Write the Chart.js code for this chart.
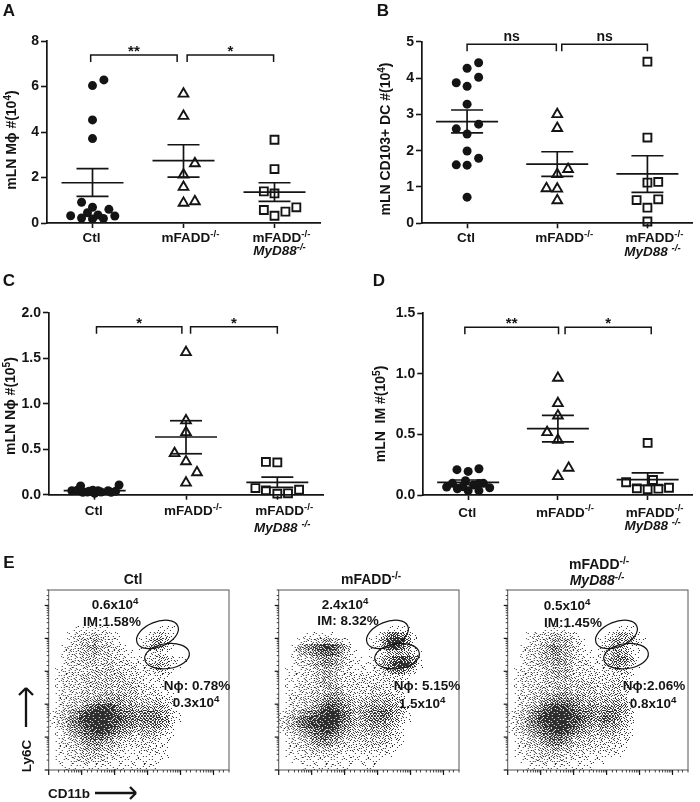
<!DOCTYPE html>
<html>
<head>
<meta charset="utf-8">
<title>mLN cell counts</title>
<script src="https://cdn.jsdelivr.net/npm/chart.js@4"></script>
<style>
  html, body { margin: 0; padding: 0; background: #fff; }
  #page { position: relative; width: 700px; height: 802px; overflow: hidden; }
  canvas { position: absolute; }
</style>
</head>
<body>
<div id="page"></div>
<script>
'use strict';

// categories, {} marks superscript, \n starts an italic second line
let categoriesA = ['Ctl', 'mFADD{-/-}', 'mFADD{-/-}\nMyD88{-/-}'];
let categoriesB = ['Ctl', 'mFADD{-/-}', 'mFADD{-/-}\nMyD88 {-/-}'];

// panel A
let aTicks = [0, 2, 4, 6, 8];
let aCtl = [6.29, 6.04, 4.53, 3.71, 0.91, 0.69, 0.60, 0.32, 0.45, 0.35, 0.22, 0.18, 0.20, 0.31];
let aCtlX = [0.125, 0, 0, 0, -0.12, 0, 0.18, -0.24, -0.055, 0.06, -0.12, 0, 0.12, 0.245];
let aKo = [5.68, 4.70, 2.62, 2.12, 1.58, 0.88, 0.95];
let aKoX = [0, 0, 0.125, 0, 0, 0, 0.125];
let aDko = [3.66, 2.37, 1.39, 1.30, 0.57, 0.32, 0.50, 0.69];
let aDkoX = [0, 0, -0.117, 0, -0.117, 0, 0.12, 0.24];
let aMean = [1.77, 2.74, 1.36];
let aHigh = [2.39, 3.44, 1.77];
let aLow = [1.17, 2.02, 0.95];

// panel B
let bTicks = [0, 1, 2, 3, 4, 5];
let bCtl = [4.42, 4.27, 4.02, 3.87, 3.77, 3.28, 2.60, 2.73, 2.46, 1.99, 1.79, 1.61, 1.60, 0.72];
let bCtlX = [0.128, 0, 0.128, -0.12, 0, 0, -0.12, 0.128, 0, 0, 0.128, -0.12, 0, 0];
let bKo = [3.00, 2.62, 1.49, 1.35, 0.96, 0.95, 0.63];
let bKoX = [0, 0, 0.12, 0, -0.12, 0, 0];
let bDko = [4.45, 2.36, 1.12, 1.14, 0.64, 0.66, 0.43, 0.05];
let bDkoX = [0, 0, 0, 0.12, -0.12, 0.12, 0, 0];
let bMean = [2.80, 1.63, 1.36];
let bHigh = [3.12, 1.97, 1.86];
let bLow = [2.49, 1.29, 0.85];

// panel C
let cTicks = [0, 0.5, 1, 1.5, 2];
let cCtl = [0.095, 0.106, 0.044, 0.05, 0.026, 0.037, 0.015, 0.044, 0.044, 0.037, 0.03, 0.03, 0.05, 0.026];
let cCtlX = [-0.154, 0.267, -0.25, -0.19, -0.13, -0.06, 0, 0.037, 0.147, 0.23, 0.07, -0.08, -0.02, 0.18];
let cKo = [1.565, 0.815, 0.685, 0.455, 0.365, 0.245, 0.131];
let cKoX = [0, 0, 0, -0.125, 0, 0.12, 0];
let cDko = [0.36, 0.355, 0.073, 0.048, 0.011, 0.015, 0.055];
let cDkoX = [-0.125, 0, -0.24, -0.125, 0, 0.117, 0.238];
let cMean = [0.044, 0.634, 0.135];
let cHigh = [0.052, 0.813, 0.194];
let cLow = [0.036, 0.45, 0.08];

// panel D
let dTicks = [0, 0.5, 1, 1.5];
let dCtl = [0.209, 0.195, 0.217, 0.066, 0.096, 0.052, 0.118, 0.036, 0.083, 0.036, 0.06, 0.096, 0.069, 0.094];
let dCtlX = [-0.125, 0, 0.12, -0.24, -0.176, -0.12, -0.03, 0, 0.06, 0.12, 0.24, 0.17, -0.06, 0.12];
let dKo = [0.966, 0.757, 0.655, 0.517, 0.454, 0.223, 0.154];
let dKoX = [0, 0, 0, -0.12, 0, 0.12, 0];
let dDko = [0.43, 0.124, 0.105, 0.055, 0.047, 0.052, 0.06];
let dDkoX = [0, 0.06, -0.24, -0.12, 0, 0.12, 0.238];
let dMean = [0.105, 0.548, 0.127];
let dHigh = [0.124, 0.658, 0.182];
let dLow = [0.085, 0.438, 0.08];

// panel E, estimated dot density per cell (0-9) of the three flow plots, top row first
let flowCtl = [
  '000000000000000000000000000000',
  '000000000000000000000000000000',
  '000000000000000000000000000000',
  '000000000000000000000000000000',
  '000000000000000000000000000000',
  '000000000000000000000000000000',
  '000011111100000000111000000000',
  '000122232211000012321000000000',
  '000123343221000124531000000000',
  '001223453322100135421000000000',
  '001223343322110012210000000000',
  '001223332322211122332110000000',
  '001222332332222123431100000000',
  '012222233333222122321000000000',
  '012223333333322211210000000000',
  '012222333333332211110000000000',
  '012222333333333222110000000000',
  '012223334444433222211000000000',
  '012233445555443333322000000000',
  '012334678886554444431000000000',
  '123457899987665666542100000000',
  '123568999988766666652100000000',
  '123567899987665556542000000000',
  '012456789876543444321000000000',
  '012345677654332333211000000000',
  '012234555443222222110000000000',
  '011223444332211222110000000000',
  '011223333222111111110000000000',
  '011122322211111111100000000000',
  '001111111111111111000000000000'
];
let flowKo = [
  '000000000000000000000000000000',
  '000000000000000000000000000000',
  '000000000000000000000000000000',
  '000000000000000000000000000000',
  '000000000000000000000000000000',
  '000000000000000000000000000000',
  '000000000000000000111100000000',
  '000011111000000013675310000000',
  '000122344321000125898510000000',
  '001456788753000124787410000000',
  '001345677642100012444421000000',
  '001223455432110124578751000000',
  '001223455432111124689851000000',
  '011122344322111123566420000000',
  '011122344322222222222100000000',
  '011222344322222222221000000000',
  '011222334432222332221000000000',
  '012223345543222333322000000000',
  '012233456654333444432000000000',
  '012234578765344555542100000000',
  '123456789976445667643100000000',
  '234678899976445666542100000000',
  '234678899865444555431000000000',
  '123456788754334444321000000000',
  '012345676543333333321000000000',
  '012234555432223333211000000000',
  '011223333222222222110000000000',
  '011122222211111111100000000000',
  '001111111111111110000000000000',
  '000011111111001100000000000000'
];
let flowDko = [
  '000000000000000000000000000000',
  '000000000000000000000000000000',
  '000000000000000000000000000000',
  '000000000000000000000000000000',
  '000000000000000000000000000000',
  '000000000000000000000000000000',
  '000000111100000000111000000000',
  '000122233221000012443100000000',
  '000122344432100124544210000000',
  '001223465432100134431100000000',
  '001223455432110134542100000000',
  '001223445432211135664100000000',
  '001223344432221134542100000000',
  '012222344432222122331000000000',
  '012222334432222222221000000000',
  '012222333333332223321000000000',
  '012223334433333233321000000000',
  '012233445544433333320000000000',
  '012234566665444344431000000000',
  '012345788876555455541000000000',
  '123467899987665566542000000000',
  '123568999988765676532000000000',
  '123567899987654555431000000000',
  '123456789876543444321000000000',
  '012345677654333333221000000000',
  '012334566543332222210000000000',
  '011223344332222222110000000000',
  '011223333222211111100000000000',
  '001122222211111100000000000000',
  '000111111111110000000000000000'
];

let ink = '#141414';
let fontName = '"Liberation Sans", Arial, sans-serif';
Chart.defaults.font.family = fontName;
Chart.defaults.color = ink;

function makeCanvas(box){
    let canvas = document.createElement('canvas');
    canvas.width = box.w;
    canvas.height = box.h;
    canvas.style.width = box.w + 'px';
    canvas.style.height = box.h + 'px';
    canvas.style.left = box.left + 'px';
    canvas.style.top = box.top + 'px';
    document.getElementById('page').appendChild(canvas);
    return canvas;
}

// text with {superscript} parts, x is the centre of the whole string
function drawRich(ctx, text, x, y, size, italic){
    let parts = text.split(/[{}]/);
    let style = (italic ? 'italic ' : '') + 'bold ';
    let total = 0;
    let widths = [];
    for(let i = 0; i < parts.length; i++){
        let s = i % 2 ? size * 0.72 : size;
        ctx.font = style + s + 'px ' + fontName;
        widths[i] = ctx.measureText(parts[i]).width;
        total += widths[i];
    }
    let pos = x - total / 2;
    ctx.textAlign = 'left';
    ctx.textBaseline = 'alphabetic';
    ctx.fillStyle = ink;
    for(let i = 0; i < parts.length; i++){
        let s = i % 2 ? size * 0.72 : size;
        ctx.font = style + s + 'px ' + fontName;
        ctx.fillText(parts[i], pos, i % 2 ? y - size * 0.38 : y);
        pos += widths[i];
    }
}

function seg(ctx, x1, y1, x2, y2){
    ctx.beginPath();
    ctx.moveTo(x1, y1);
    ctx.lineTo(x2, y2);
    ctx.stroke();
}

function toPoints(values, offsets, group){
    let pts = [];
    for(let i = 0; i < values.length; i++){
        pts.push({x: group + offsets[i], y: values[i]});
    }
    return pts;
}

function statChart(p){
    let canvas = makeCanvas(p.box);
    let overlay = {
        id: 'overlay',
        afterDraw(chart){
            let ctx = chart.ctx;
            let xs = chart.scales.x;
            let ys = chart.scales.y;
            ctx.save();
            ctx.strokeStyle = ink;
            ctx.lineCap = 'butt';

            // mean and sem
            ctx.lineWidth = 1.7;
            for(let i = 0; i < 3; i++){
                let cx = xs.getPixelForValue(i + 1);
                seg(ctx, cx - 31, ys.getPixelForValue(p.mean[i]), cx + 31, ys.getPixelForValue(p.mean[i]));
                seg(ctx, cx - 16, ys.getPixelForValue(p.high[i]), cx + 16, ys.getPixelForValue(p.high[i]));
                seg(ctx, cx - 16, ys.getPixelForValue(p.low[i]), cx + 16, ys.getPixelForValue(p.low[i]));
                seg(ctx, cx, ys.getPixelForValue(p.high[i]), cx, ys.getPixelForValue(p.low[i]));
            }

            // significance brackets
            ctx.lineWidth = 1.5;
            p.brackets.forEach(function(b){
                let x1 = xs.getPixelForValue(b.from);
                let x2 = xs.getPixelForValue(b.to);
                let by = ys.getPixelForValue(p.bracketAt);
                ctx.beginPath();
                ctx.moveTo(x1, by + 7);
                ctx.lineTo(x1, by);
                ctx.lineTo(x2, by);
                ctx.lineTo(x2, by + 7);
                ctx.stroke();
                drawRich(ctx, b.label, (x1 + x2) / 2, by + (b.label === 'ns' ? -3 : 1), b.label === 'ns' ? 14 : 15);
            });

            // category labels
            p.names.forEach(function(name, i){
                let lines = name.split('\n');
                let cx = xs.getPixelForValue(i + 1) + (i ? 7 : -1);
                drawRich(ctx, lines[0], cx, xs.top + p.labelY, 13.5);
                if(lines[1]){
                    drawRich(ctx, lines[1], cx - 2, xs.top + p.line2Y, 13.5, true);
                }
            });

            // panel letter
            drawRich(ctx, p.letter, p.letterX + 6, 16, 17);

            // y title
            ctx.translate(p.titleX, p.titleY);
            ctx.rotate(-Math.PI / 2);
            drawRich(ctx, p.yTitle, 0, 0, 14);
            ctx.restore();
        }
    };
    let points = function(values, offsets, group, style, radius, width, fill){
        return {
            data: toPoints(values, offsets, group),
            pointStyle: style,
            pointRadius: radius,
            pointBorderWidth: width,
            pointBorderColor: ink,
            pointBackgroundColor: fill,
            showLine: false,
            clip: false
        };
    };
    new Chart(canvas, {
        type: 'scatter',
        data: {
            datasets: [
                points(p.ctl, p.ctlX, 1, 'circle', 4.5, 0, ink),
                points(p.ko, p.koX, 2, 'triangle', 5.6, 1.9, 'rgba(0,0,0,0)'),
                points(p.dko, p.dkoX, 3, 'rect', 5.6, 1.9, 'rgba(0,0,0,0)')
            ]
        },
        plugins: [overlay],
        options: {
            responsive: false,
            animation: false,
            events: [],
            layout: {padding: {left: 0, top: p.plot.top, right: p.box.w - p.plot.right, bottom: 0}},
            plugins: {legend: {display: false}, tooltip: {enabled: false}},
            scales: {
                x: {
                    type: 'linear',
                    min: 0.5,
                    max: 3.5,
                    afterFit(s){ s.height = p.box.h - p.plot.bottom; },
                    afterBuildTicks(s){ s.ticks = p.names.map(function(c, i){ return {value: i + 1}; }); },
                    ticks: {callback(){ return ''; }},
                    grid: {drawOnChartArea: false, tickLength: 5, tickWidth: 1.6, tickColor: ink},
                    border: {color: ink, width: 1.7}
                },
                y: {
                    type: 'linear',
                    min: p.ticks[0],
                    max: p.ticks[p.ticks.length - 1],
                    afterFit(s){ s.width = p.plot.left; },
                    afterBuildTicks(s){ s.ticks = p.ticks.map(function(v){ return {value: v}; }); },
                    ticks: {
                        padding: 2,
                        font: {size: 14, weight: 'bold'},
                        callback(v){ return v.toFixed(p.decimals); }
                    },
                    grid: {drawOnChartArea: false, tickLength: 6, tickWidth: 1.6, tickColor: ink},
                    border: {color: ink, width: 1.7}
                }
            }
        }
    });
}

statChart({
    letter: 'A', letterX: 3,
    box: {left: 0, top: 0, w: 345, h: 270},
    plot: {left: 47, right: 320, top: 41, bottom: 223},
    ticks: aTicks, decimals: 0, names: categoriesA,
    ctl: aCtl, ctlX: aCtlX, ko: aKo, koX: aKoX, dko: aDko, dkoX: aDkoX,
    mean: aMean, high: aHigh, low: aLow,
    yTitle: 'mLN Mϕ #(10{4})', titleX: 16, titleY: 140,
    labelY: 19, line2Y: 32,
    bracketAt: 7.38,
    brackets: [{from: 0.98, to: 1.93, label: '**'}, {from: 2.04, to: 2.99, label: '*'}]
});
statChart({
    letter: 'B', letterX: 27,
    box: {left: 350, top: 0, w: 350, h: 270},
    plot: {left: 72, right: 347, top: 41.7, bottom: 223.3},
    ticks: bTicks, decimals: 0, names: categoriesB,
    ctl: bCtl, ctlX: bCtlX, ko: bKo, koX: bKoX, dko: bDko, dkoX: bDkoX,
    mean: bMean, high: bHigh, low: bLow,
    yTitle: 'mLN CD103+ DC #(10{4})', titleX: 40, titleY: 139,
    labelY: 19, line2Y: 33,
    bracketAt: 4.93,
    brackets: [{from: 1, to: 1.99, label: 'ns'}, {from: 2.05, to: 3, label: 'ns'}]
});
statChart({
    letter: 'C', letterX: 3,
    box: {left: 0, top: 270, w: 345, h: 270},
    plot: {left: 49, right: 323, top: 42.7, bottom: 224.7},
    ticks: cTicks, decimals: 1, names: categoriesB,
    ctl: cCtl, ctlX: cCtlX, ko: cKo, koX: cKoX, dko: cDko, dkoX: cDkoX,
    mean: cMean, high: cHigh, low: cLow,
    yTitle: 'mLN Nϕ #(10{5})', titleX: 15, titleY: 136,
    labelY: 20, line2Y: 37,
    bracketAt: 1.846,
    brackets: [{from: 1.02, to: 1.955, label: '*'}, {from: 2.05, to: 3, label: '*'}]
});
statChart({
    letter: 'D', letterX: 23,
    box: {left: 350, top: 270, w: 350, h: 270},
    plot: {left: 73.3, right: 348, top: 43.3, bottom: 225},
    ticks: dTicks, decimals: 1, names: categoriesB,
    ctl: dCtl, ctlX: dCtlX, ko: dKo, koX: dKoX, dko: dDko, dkoX: dDkoX,
    mean: dMean, high: dHigh, low: dLow,
    yTitle: 'mLN  IM #(10{5})', titleX: 35, titleY: 144,
    labelY: 21.5, line2Y: 35,
    bracketAt: 1.385,
    brackets: [{from: 0.963, to: 2.007, label: '**'}, {from: 2.08, to: 3.04, label: '*'}]
});

// flow plots, axes run over this many decades
let flowDecades = 5.47;

// stipple texture for a density cell: pixels switch on in this scrambled order
let stippleOrder = [
    14, 3, 27, 9, 33, 20,
    30, 22, 6, 17, 1, 12,
    8, 35, 11, 25, 28, 5,
    19, 0, 31, 4, 15, 23,
    26, 13, 21, 34, 7, 32,
    2, 29, 10, 18, 24, 16
];
let densityCover = [0, 3, 6, 9, 12, 16, 20, 25, 29, 33];
let tiles = {};

function stippleTile(level, variant){
    let key = level + '_' + variant;
    if(tiles[key]){
        return tiles[key];
    }
    let tile = document.createElement('canvas');
    tile.width = 6;
    tile.height = 6;
    let tctx = tile.getContext('2d');
    tctx.fillStyle = 'rgba(0,0,0,0.82)';
    for(let row = 0; row < 6; row++){
        for(let col = 0; col < 6; col++){
            let a = variant & 1 ? 5 - col : col;
            let b = variant & 2 ? 5 - row : row;
            let idx = variant & 4 ? a * 6 + b : b * 6 + a;
            if(stippleOrder[idx] < densityCover[level]){
                tctx.fillRect(col, row, 1, 1);
            }
        }
    }
    tiles[key] = tile;
    return tile;
}

function flowChart(f){
    let canvas = makeCanvas(f.box);
    let pts = [];
    let styles = [];
    f.grid.forEach(function(row, r){
        for(let c = 0; c < row.length; c++){
            let level = Number(row[c]);
            if(level > 0){
                pts.push({
                    x: Math.pow(10, (c + 0.5) / row.length * flowDecades),
                    y: Math.pow(10, (f.grid.length - r - 0.5) / f.grid.length * flowDecades)
                });
                styles.push(stippleTile(level, (r * r * 3 + c * c * 5 + r * c) % 8));
            }
        }
    });
    let overlay = {
        id: 'overlay',
        afterDraw(chart){
            let ctx = chart.ctx;
            let a = chart.chartArea;
            let xs = chart.scales.x;
            let ys = chart.scales.y;
            ctx.save();

            ctx.strokeStyle = '#555';
            ctx.lineWidth = 1;
            ctx.strokeRect(a.left, a.top, a.right - a.left, a.bottom - a.top);

            ctx.strokeStyle = ink;
            xs.ticks.forEach(function(t){
                let major = Number.isInteger(Math.log10(t.value));
                let px = xs.getPixelForValue(t.value);
                ctx.lineWidth = major ? 1.2 : 0.8;
                seg(ctx, px, a.bottom, px, a.bottom + (major ? 5 : 2.5));
            });
            ys.ticks.forEach(function(t){
                let major = Number.isInteger(Math.log10(t.value));
                let py = ys.getPixelForValue(t.value);
                ctx.lineWidth = major ? 1.2 : 0.8;
                seg(ctx, a.left, py, a.left - (major ? 4 : 2), py);
            });

            // gates
            ctx.lineWidth = 1.2;
            ctx.beginPath();
            ctx.ellipse(xs.getPixelForValue(Math.pow(10, 3.30)), ys.getPixelForValue(Math.pow(10, 4.12)), 22, 12.5, -22 * Math.PI / 180, 0, Math.PI * 2);
            ctx.stroke();
            ctx.beginPath();
            ctx.ellipse(xs.getPixelForValue(Math.pow(10, 3.59)), ys.getPixelForValue(Math.pow(10, 3.46)), 22.5, 12.5, -8 * Math.PI / 180, 0, Math.PI * 2);
            ctx.stroke();

            // labels are placed in page coordinates
            ctx.translate(-f.box.left, -f.box.top);
            f.notes.forEach(function(n){
                drawRich(ctx, n[0], n[1], n[2], n[3] || 13.5, n[4]);
            });

            if(f.extras){
                f.extras(ctx);
            }
            ctx.restore();
        }
    };
    new Chart(canvas, {
        type: 'scatter',
        data: {
            datasets: [{
                data: pts,
                pointStyle: styles,
                pointRadius: 3,
                pointBorderWidth: 0,
                showLine: false
            }]
        },
        plugins: [overlay],
        options: {
            responsive: false,
            animation: false,
            events: [],
            layout: {padding: {left: 0, top: f.plot.top, right: f.box.w - f.plot.right, bottom: 0}},
            plugins: {legend: {display: false}, tooltip: {enabled: false}},
            scales: {
                x: {
                    type: 'logarithmic',
                    min: 1,
                    max: Math.pow(10, flowDecades),
                    afterFit(s){ s.height = f.box.h - f.plot.bottom; },
                    ticks: {autoSkip: false, maxRotation: 0, callback(){ return ''; }},
                    grid: {display: false},
                    border: {display: false}
                },
                y: {
                    type: 'logarithmic',
                    min: 1,
                    max: Math.pow(10, flowDecades),
                    afterFit(s){ s.width = f.plot.left; },
                    ticks: {autoSkip: false, callback(){ return ''; }},
                    grid: {display: false},
                    border: {display: false}
                }
            }
        }
    });
}

flowChart({
    box: {left: 0, top: 550, w: 240, h: 252},
    plot: {left: 48.7, right: 229, top: 40, bottom: 220},
    grid: flowCtl,
    notes: [
        ['E', 9, 568, 17],
        ['Ctl', 133, 584, 14],
        ['0.6x10{4}', 115, 609],
        ['IM:1.58%', 112, 626],
        ['Nϕ: 0.78%', 197, 690],
        ['0.3x10{4}', 196, 707],
        ['CD11b', 69, 798]
    ],
    extras(ctx){
        // Ly6C and CD11b arrows
        ctx.save();
        ctx.translate(31, 756);
        ctx.rotate(-Math.PI / 2);
        drawRich(ctx, 'Ly6C', 0, 0, 13.5);
        ctx.restore();
        ctx.strokeStyle = ink;
        ctx.lineWidth = 2.3;
        seg(ctx, 26, 727, 26, 688);
        seg(ctx, 19, 695, 26, 688);
        seg(ctx, 33, 695, 26, 688);
        seg(ctx, 95, 793, 136, 793);
        seg(ctx, 130, 787, 136, 793);
        seg(ctx, 130, 799, 136, 793);
    }
});
flowChart({
    box: {left: 240, top: 550, w: 225, h: 252},
    plot: {left: 38.7, right: 219, top: 40, bottom: 220},
    grid: flowKo,
    notes: [
        ['mFADD{-/-}', 371, 584, 14],
        ['2.4x10{4}', 345, 609],
        ['IM: 8.32%', 348, 625],
        ['Nϕ: 5.15%', 427, 690],
        ['1.5x10{4}', 422, 708]
    ]
});
flowChart({
    box: {left: 470, top: 550, w: 230, h: 252},
    plot: {left: 37.7, right: 218, top: 40, bottom: 220},
    grid: flowDko,
    notes: [
        ['mFADD{-/-}', 599, 569, 14],
        ['MyD88{-/-}', 597, 585, 14, true],
        ['0.5x10{4}', 567, 610],
        ['IM:1.45%', 573, 627],
        ['Nϕ:2.06%', 654, 690],
        ['0.8x10{4}', 653, 708]
    ]
});
</script>
</body>
</html>
